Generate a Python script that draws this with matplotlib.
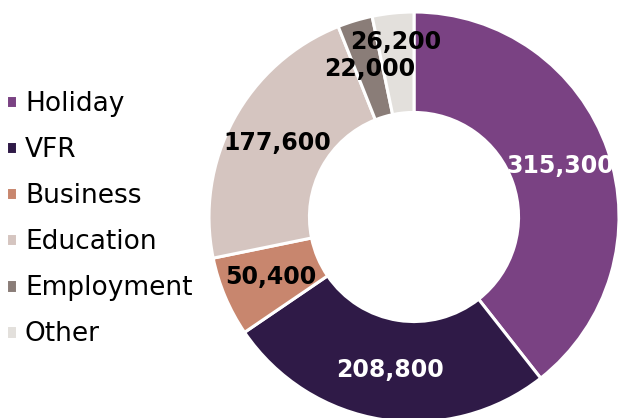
import numpy as np
import matplotlib
matplotlib.use("Agg")
import matplotlib.pyplot as plt

# visits by purpose
categories = ["Holiday", "VFR", "Business", "Education", "Employment", "Other"]
visits = [315300, 208800, 50400, 177600, 22000, 26200]
colours = ["#7A4283", "#2F1A47", "#C8866E", "#D5C5C0", "#8A7D78", "#E3E0DC"]
label_colours = ["white", "white", "black", "black", "black", "black"]
label_radius = [0.756, 0.756, 0.756, 0.756, 0.756, 0.86]

plt.rcParams['font.family'] = ['DejaVu Sans']

fig = plt.figure(figsize=(6.18, 4.18), dpi=100)
ax = fig.add_axes([209 / 618, -4 / 418, 410 / 618, 410 / 418])

wedges, _ = ax.pie(visits, colors=colours, startangle=90, counterclock=False,
                   wedgeprops=dict(width=0.49, edgecolor="white", linewidth=2.2))
ax.set_xlim(-1, 1)
ax.set_ylim(-1, 1)
ax.set_aspect("equal")

for w, v, c, r in zip(wedges, visits, label_colours, label_radius):
    mid = np.deg2rad((w.theta1 + w.theta2) / 2)
    ax.text(r * np.cos(mid), r * np.sin(mid), f"{v:,}", ha="center", va="center",
            color=c, fontsize=17, fontweight="bold", clip_on=False)

for w in wedges:
    w.set_clip_on(False)

fig.legend(wedges, categories, loc="center left", bbox_to_anchor=(6 / 618, 0.476),
           frameon=False, fontsize=19, handlelength=0.42, handleheight=0.42,
           handletextpad=0.3, labelspacing=0.76, borderaxespad=0.0, borderpad=0.0)

fig.savefig("out.png", dpi=100)
